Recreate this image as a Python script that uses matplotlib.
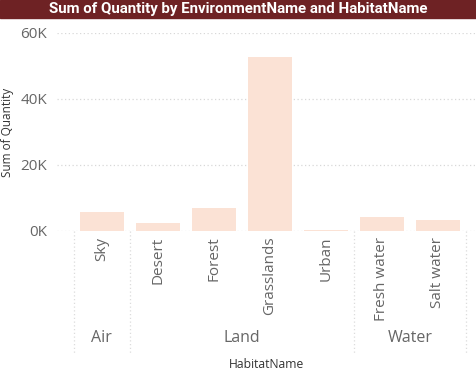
import matplotlib.pyplot as plt
from matplotlib.patches import Rectangle
import matplotlib.transforms as mtransforms

# data
environments = ["Air", "Land", "Water"]
habitats = ["Sky", "Desert", "Forest", "Grasslands", "Urban", "Fresh water", "Salt water"]
habitat_env = ["Air", "Land", "Land", "Land", "Land", "Water", "Water"]
quantities = [5700, 2300, 6900, 52600, 200, 4300, 3300]
y_ticks = [0, 20000, 40000, 60000]
y_tick_labels = ["0K", "20K", "40K", "60K"]

W, H = 476, 373
fig = plt.figure(figsize=(W / 100, H / 100), dpi=100)
plt.rcParams['font.family'] = ['Open Sans', 'DejaVu Sans']

# title bar
fig.patches.append(Rectangle((0, 1 - 18 / H), 1, 18 / H, transform=fig.transFigure,
                             color='#6E2224', zorder=0))
fig.text(0.5, 1 - 9.5 / H, "Sum of Quantity by EnvironmentName and HabitatName",
         ha='center', va='center', color='white', fontsize=10.8, fontweight='bold',
         family=['Roboto', 'DejaVu Sans'])

ax = fig.add_axes([57 / W, 142 / H, 1 - 57 / W, 198 / H])
x = list(range(len(habitats)))
ax.bar(x, quantities, width=0.79, color='#FBE2D5', zorder=2)

ax.set_ylim(0, 60000)
ax.set_xlim(-0.8, len(habitats) - 1 + 0.68)
ax.set_yticks(y_ticks)
ax.set_yticklabels(y_tick_labels, fontsize=11, color='#666666')
ax.tick_params(axis='y', length=0, pad=7)
ax.set_xticks(x)
ax.set_xticklabels(habitats, rotation=90, fontsize=11, color='#666666')
ax.tick_params(axis='x', length=0, pad=4)
ax.grid(axis='y', linestyle=(0, (1, 2)), color='#d8d8d8', linewidth=0.9, zorder=0)
for s in ax.spines.values():
    s.set_visible(False)

# hierarchy: environment groups
trans = mtransforms.blended_transform_factory(ax.transData, ax.transAxes)
bounds = [-0.5]
for i in range(1, len(habitat_env)):
    if habitat_env[i] != habitat_env[i - 1]:
        bounds.append(i - 0.5)
bounds.append(len(habitat_env) - 0.5)
for b in bounds:
    ax.plot([b, b], [0, -0.616], transform=trans, clip_on=False,
            linestyle=(0, (1, 2)), color='#dcdcdc', linewidth=0.9)
for env, lo, hi in zip(environments, bounds[:-1], bounds[1:]):
    ax.text((lo + hi) / 2, -0.54, env, transform=trans, ha='center', va='center',
            fontsize=11.5, color='#666666')

ax.text(0.5, -0.675, "HabitatName", transform=ax.transAxes, ha='center', va='center',
        fontsize=8.7, color='#333333')
fig.text(8 / W, 1 - 132 / H, "Sum of Quantity", rotation=90, ha='center', va='center',
         fontsize=8.5, color='#333333')

fig.savefig('out.png', dpi=100)
